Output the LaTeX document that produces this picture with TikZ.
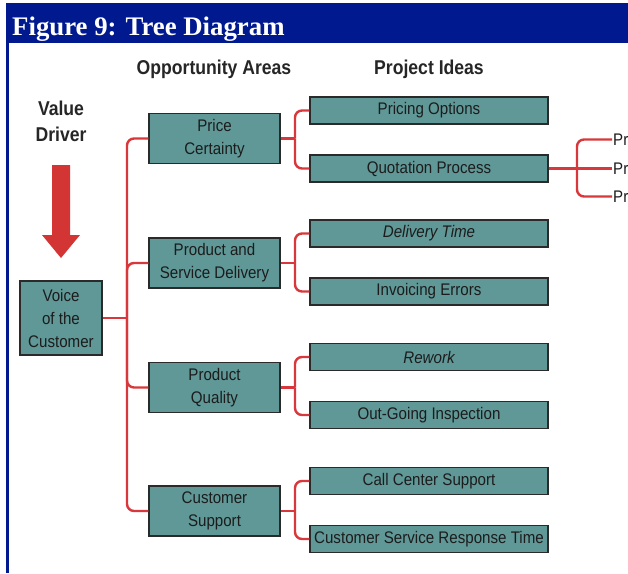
\documentclass[tikz,border=0pt]{standalone}
\usepackage{fontspec}
\setmainfont{Liberation Sans}
\newfontfamily\titlefont{Liberation Serif}
\newfontfamily\boxfont{Liberation Sans}[FakeStretch=0.9]
\newfontfamily\headfont{Liberation Sans}[FakeStretch=0.88]
\usetikzlibrary{calc}

\definecolor{hdrblue}{HTML}{00198F}
\definecolor{boxfill}{HTML}{5F9897}
\definecolor{boxedge}{HTML}{2A2A2A}
\definecolor{boxtext}{HTML}{1C1C1C}
\definecolor{linkred}{HTML}{D8383B}
\definecolor{arrowred}{HTML}{D33434}

\begin{document}
\begin{tikzpicture}[x=1pt,y=-1pt,
  obox/.style={draw=boxedge, line width=1.1pt, fill=boxfill, text=boxtext,
    font=\boxfont\fontsize{16.8}{23}\selectfont, align=center, inner sep=0pt},
  oppbox/.style={obox, minimum width=131pt, minimum height=50pt},
  ideabox/.style={obox, minimum width=238pt, minimum height=27pt},
  colhead/.style={font=\headfont\bfseries\fontsize{20}{26}\selectfont, text=black!85},
  link/.style={draw=linkred, line width=2.4pt},
  roundlink/.style={link, rounded corners=7pt}]

\useasboundingbox (0,0) rectangle (628,573);
\clip (0,0) rectangle (628,573);
\fill[white] (0,0) rectangle (628,573);

% title bar and left rule
\fill[hdrblue] (6,3) rectangle (628,43);
\fill[hdrblue] (6,43) rectangle (8.5,573);
\node[anchor=base west, text=white, inner sep=0pt,
  font=\titlefont\bfseries\fontsize{26.8}{30}\selectfont] (title) at (12,35) {Figure 9: Tree Diagram};

% column headings
\node[colhead] (hOpp) at (214,69) {Opportunity Areas};
\node[colhead] (hIdea) at (429,69) {Project Ideas};
\node[colhead, align=center] (hDriver) at (61,121) {Value\\Driver};

% driver arrow
\fill[arrowred] (52,165) -- (70,165) -- (70,235) -- (80,235) -- (61,258)
  -- (42,235) -- (52,235) -- cycle;

% root
\node[obox, minimum width=82pt, minimum height=74pt] (voice) at (61,318) {Voice\\of the\\Customer};

% opportunity areas
\node[oppbox] (price) at (214.5,138.5) {Price\\Certainty};
\node[oppbox] (delivery) at (214.5,263) {Product and\\Service Delivery};
\node[oppbox] (quality) at (214.5,387.5) {Product\\Quality};
\node[oppbox] (support) at (214.5,511) {Customer\\Support};

% project ideas
\node[ideabox] (pricing) at (429,110.5) {Pricing Options};
\node[ideabox] (quote) at (429,168.5) {Quotation Process};
\node[ideabox] (dtime) at (429,233.5) {\itshape Delivery Time};
\node[ideabox] (invoice) at (429,291.5) {Invoicing Errors};
\node[ideabox] (rework) at (429,357) {\itshape Rework};
\node[ideabox] (outgoing) at (429,415) {Out-Going Inspection};
\node[ideabox] (callc) at (429,481) {Call Center Support};
\node[ideabox] (respt) at (429,539) {Customer Service Response Time};

% third level (runs off the edge)
\node[anchor=west, inner sep=0pt, text=boxtext, font=\boxfont\fontsize{16.8}{20}\selectfont] (pr1) at (613,139.5) {Pr};
\node[anchor=west, inner sep=0pt, text=boxtext, font=\boxfont\fontsize{16.8}{20}\selectfont] (pr2) at (613,168.5) {Pr};
\node[anchor=west, inner sep=0pt, text=boxtext, font=\boxfont\fontsize{16.8}{20}\selectfont] (pr3) at (613,196.5) {Pr};

% junctions
\coordinate (j0) at (127,318);
\coordinate (j1) at (295,138.5);
\coordinate (j2) at (295,263);
\coordinate (j3) at (295,387.5);
\coordinate (j4) at (295,511);
\coordinate (j5) at (577,168.5);

% trunk
\draw[link] (voice.east) -- (j0);
\draw[roundlink] (j0) |- (price.west);
\draw[roundlink] (j0) |- (delivery.west);
\draw[roundlink] (j0) |- (quality.west);
\draw[roundlink] (j0) |- (support.west);

% branches
\draw[link] (price.east) -- (j1);
\draw[roundlink] (j1) |- (pricing.west);
\draw[roundlink] (j1) |- (quote.west);
\draw[link] (delivery.east) -- (j2);
\draw[roundlink] (j2) |- (dtime.west);
\draw[roundlink] (j2) |- (invoice.west);
\draw[link] (quality.east) -- (j3);
\draw[roundlink] (j3) |- (rework.west);
\draw[roundlink] (j3) |- (outgoing.west);
\draw[link] (support.east) -- (j4);
\draw[roundlink] (j4) |- (callc.west);
\draw[roundlink] (j4) |- (respt.west);

\draw[link] (quote.east) -- (j5);
\draw[roundlink] (j5) |- ([xshift=-1pt]pr1.west);
\draw[link] (j5) -- ([xshift=-1pt]pr2.west);
\draw[roundlink] (j5) |- ([xshift=-1pt]pr3.west);

\end{tikzpicture}
\end{document}
